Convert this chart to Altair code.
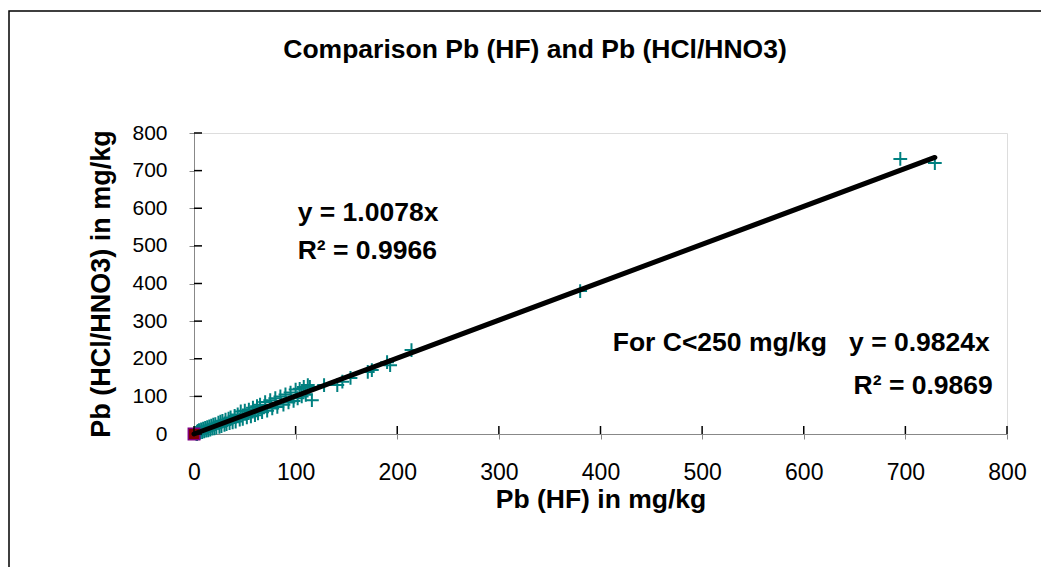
import altair as alt
import pandas as pd

# ---- data ----
pb_hf = [1, 2, 3, 3, 4, 5, 5, 6, 7, 8, 9, 10, 11, 12, 13, 14, 15, 16, 17, 18, 19, 20,
         21, 22, 24, 25, 26, 27, 28, 30, 31, 32, 34, 35, 36, 38, 40, 41, 43, 45, 46, 48,
         50, 52, 54, 56, 58, 60, 62, 63, 65, 67, 70, 72, 75, 77, 80, 82, 85, 88, 90, 93,
         95, 98, 100, 102, 104, 106, 108, 110, 112, 114, 116, 128, 141, 146, 154, 171,
         175, 190, 193, 214, 380, 695, 729]
pb_acid = [3, 1, 6, 0, 8, 3, 10, 4, 12, 5, 14, 7, 16, 9, 18, 10, 20, 12, 22, 14, 25, 15,
           26, 17, 30, 19, 33, 21, 35, 24, 38, 26, 41, 29, 44, 31, 48, 33, 52, 38, 60, 40,
           62, 44, 65, 47, 70, 50, 74, 55, 78, 58, 85, 62, 90, 68, 95, 72, 100, 78, 105, 84,
           110, 88, 118, 95, 120, 100, 125, 104, 130, 125, 90, 130, 130, 139, 149, 165,
           170, 191, 183, 223, 380, 731, 720]

origin_x = [0]
origin_y = [0]

trend_x = [0, 729]
trend_y = [0, 735]

tick_values = [0, 100, 200, 300, 400, 500, 600, 700, 800]

chart_title = "Comparison Pb (HF) and Pb (HCl/HNO3)"

left_texts = ["y = 1.0078x", "R² = 0.9966", "For C<250 mg/kg\u00a0\u00a0\u00a0y = 0.9824x"]
left_x = [102, 102, 412]
left_y = [587, 486, 242]

right_texts = ["R² = 0.9869"]
right_x = [786]
right_y = [128]

FONT = "Liberation Sans"
BOLD_SIZE = 26.5
W, H = 813, 301
LEFT, TOP = 194, 133

xs = alt.Scale(domain=[0, 800], nice=False)
ys = alt.Scale(domain=[0, 800], nice=False)

x_axis = alt.Axis(
    title="Pb (HF) in mg/kg", values=tick_values, labelFontSize=23, labelPadding=22,
    labelOverlap=False, labelFlush=False, grid=False,
    titleFontSize=BOLD_SIZE, titleY=65, titleBaseline="middle")
y_axis = alt.Axis(
    title="Pb (HCl/HNO3) in mg/kg", values=tick_values, labelFontSize=21, labelPadding=22,
    labelOverlap=False, labelFlush=False, grid=False,
    titleFontSize=27, titleX=-93, titleBaseline="middle")

pts_df = pd.DataFrame({"x": pb_hf, "y": pb_acid})
org_df = pd.DataFrame({"x": origin_x, "y": origin_y})
trend_df = pd.DataFrame({"x": trend_x, "y": trend_y})
ticks_df = pd.DataFrame({"v": tick_values})
lt_df = pd.DataFrame({"t": left_texts, "x": left_x, "y": left_y})
rt_df = pd.DataFrame({"t": right_texts, "x": right_x, "y": right_y})
one_df = pd.DataFrame({"a": [0]})
title_df = pd.DataFrame({"t": [chart_title]})


def qx(field):
    return alt.X(field, type="quantitative", scale=xs, axis=x_axis)


def qy(field):
    return alt.Y(field, type="quantitative", scale=ys, axis=y_axis)


border = alt.Chart(one_df).mark_rect(fill=None, stroke="black", strokeWidth=1.5).encode(
    x=alt.value(9 - LEFT), x2=alt.value(1041 - LEFT + 30),
    y=alt.value(11 - TOP), y2=alt.value(567 - TOP + 30),
)

title = alt.Chart(title_df).mark_text(
    align="center", baseline="middle", font=FONT, fontSize=BOLD_SIZE, fontWeight="bold", color="black"
).encode(x=alt.value(535 - LEFT), y=alt.value(50 - TOP), text="t:N")

points = alt.Chart(pts_df).mark_point(
    shape="M-1,0H1M0,-1V1", size=190, stroke="#008080", strokeWidth=2, filled=False, opacity=1
).encode(x=qx("x"), y=qy("y"))

origin = alt.Chart(org_df).mark_point(
    shape="square", size=130, filled=True, fill="#800000", stroke="#800080", strokeWidth=1.5, opacity=1
).encode(x=qx("x"), y=qy("y"))

trend = alt.Chart(trend_df).mark_line(color="black", strokeWidth=5, strokeCap="round").encode(
    x=qx("x"), y=qy("y"))

xticks_in = alt.Chart(ticks_df).mark_rule(color="black", strokeWidth=1.5).encode(
    x=qx("v"), y=alt.value(H - 8), y2=alt.value(H))
yticks_in = alt.Chart(ticks_df).mark_rule(color="black", strokeWidth=1.5).encode(
    y=qy("v"), x=alt.value(0), x2=alt.value(8))

ltext = alt.Chart(lt_df).mark_text(
    align="left", baseline="middle", font=FONT, fontSize=BOLD_SIZE, fontWeight="bold", color="black"
).encode(x=qx("x"), y=qy("y"), text="t:N")
rtext = alt.Chart(rt_df).mark_text(
    align="right", baseline="middle", font=FONT, fontSize=BOLD_SIZE, fontWeight="bold", color="black"
).encode(x=qx("x"), y=qy("y"), text="t:N")

chart = alt.layer(border, title, points, origin, trend, xticks_in, yticks_in, ltext, rtext).properties(
    width=W, height=H,
    autosize=alt.AutoSizeParams(type="none"),
    padding={"left": LEFT, "top": TOP, "right": 1041 - LEFT - W, "bottom": 567 - TOP - H},
).configure_axis(
    domainColor="black", domainWidth=2, tickColor="black", tickWidth=1.5, tickSize=8,
    grid=False, labelFont=FONT, titleFont=FONT, labelColor="black", titleColor="black",
    titleFontWeight="bold",
).configure_view(stroke="#808080", strokeWidth=2).configure(background="white")

chart.save("out.html", embed_options={"renderer": "svg", "actions": False})
